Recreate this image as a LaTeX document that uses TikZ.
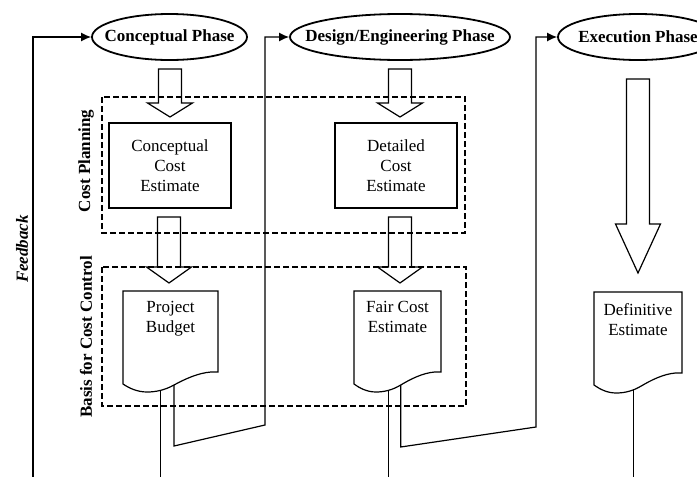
\documentclass[tikz,border=0pt]{standalone}
\usepackage{fontspec}
\setmainfont{Liberation Serif}
\usetikzlibrary{shapes.geometric,arrows.meta}

% zero-width box so the ellipse keeps its given size
\newcommand\ctrtext[1]{\makebox[0pt]{#1}}

\begin{document}
\begin{tikzpicture}[x=1pt,y=-1pt,
  every node/.style={font=\fontsize{17}{20}\selectfont},
  phase/.style={draw,ellipse,line width=1.8pt,minimum width=#1,minimum height=46pt,
    inner sep=0pt,font=\fontsize{17}{20}\selectfont\bfseries},
  estbox/.style={draw,line width=1.2pt,minimum width=122pt,minimum height=85pt,
    align=center,inner sep=0pt},
  doctext/.style={align=center,anchor=north,inner sep=0pt},
  conn/.style={line width=1.2pt},
  arrowconn/.style={conn,-{Latex[length=10pt,width=9pt]}},
  zone/.style={line width=1.1pt,dash pattern=on 6pt off 3pt},
  sidelabel/.style={rotate=90,inner sep=0pt,font=\fontsize{17}{20}\selectfont\bfseries},
  pics/hollowdown/.style 2 args={code={
    \draw[line width=1.2pt] (-11.5,0) -- (11.5,0) -- (11.5,#1) -- (22.5,#1)
      -- (0,{#1+#2}) -- (-22.5,#1) -- (-11.5,#1) -- cycle;}},
  pics/docshape/.style={code={
    \draw[line width=1.2pt] (0,0) -- (95,0) -- (95,81) -- (88,81)
      .. controls (75,82) and (62,88) .. (51,94)
      .. controls (42,99) and (33,101) .. coordinate[pos=0.5] (-a) coordinate[pos=0.3] (-c) (24,101)
      .. controls (14,101) and (6,97) .. (0,93) -- cycle;
    \coordinate (-b) at (51,94);}}
]
\useasboundingbox (0,0) rectangle (697,477);
\coordinate (bot) at (0,477);

% phases
\node[phase=155pt] (p1) at (169.5,37) {\ctrtext{Conceptual Phase}};
\node[phase=220pt] (p2) at (400,37) {\ctrtext{Design/Engineering Phase}};
\node[phase=160pt] (p3) at (638,37) {\ctrtext{Execution Phase}};

% dashed zones
\draw[zone] (102,97) rectangle (465,233);
\draw[zone] (102,267) rectangle (466,406);
\node[sidelabel] (lcp) at (86,161) {Cost Planning};
\node[sidelabel] (lbc) at (86,337) {Basis for Cost Control};
\node[sidelabel,font=\fontsize{17}{20}\selectfont\bfseries\itshape] (lfb) at (22,249) {Feedback};

% estimate boxes
\node[estbox] (ce) at (170,165.5) {Conceptual\\Cost\\Estimate};
\node[estbox] (de) at (396,165.5) {Detailed\\Cost\\Estimate};

% documents
\pic (d1) at (123,291) {docshape};
\pic[xscale=0.916] (d2) at (354,291) {docshape};
\pic[xscale=0.926] (d3) at (594,292) {docshape};
\node[doctext] (pbt) at (170.5,301.5) {Project\\Budget};
\node[doctext] (fct) at (397.5,301.5) {Fair Cost\\Estimate};
\node[doctext] (det) at (638,303) {Definitive\\Estimate};

% hollow block arrows
\pic at (170,69) {hollowdown={34}{14}};
\pic at (400,69) {hollowdown={34}{14}};
\pic at (169,217) {hollowdown={50}{16}};
\pic at (400,217) {hollowdown={50}{16}};
\pic at (638,79) {hollowdown={145}{49}};

% connectors
\draw[conn] (d1-a) -- (d1-a |- bot);
\draw[conn] (d2-a) -- (d2-a |- bot);
\draw[conn] (d3-c) -- (d3-c |- bot);

\coordinate (j1) at (265,425);
\coordinate (j2) at (536,427);
\draw[arrowconn] (d1-b) -- ++(0,61) -- (j1) |- (p2.west);
\draw[arrowconn] (d2-b) -- ++(0,62) -- (j2) |- (p3.west);

\coordinate (fb) at (33,477);
\draw[arrowconn] (fb) |- (p1.west);
\end{tikzpicture}
\end{document}
